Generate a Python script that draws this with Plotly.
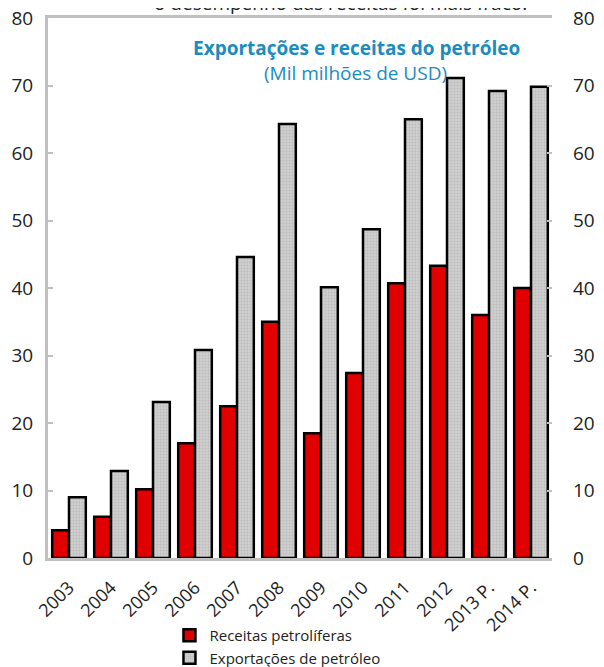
import plotly.graph_objects as go

years = ['2003', '2004', '2005', '2006', '2007', '2008', '2009', '2010',
         '2011', '2012', '2013 P.', '2014 P.']
receitas = [4.1, 6.1, 10.2, 17.0, 22.5, 35.0, 18.5, 27.4, 40.7, 43.3, 36.0, 40.0]
exportacoes = [9.0, 12.9, 23.1, 30.8, 44.6, 64.3, 40.1, 48.7, 65.0, 71.1, 69.2, 69.8]
yticks = [0, 10, 20, 30, 40, 50, 60, 70, 80]

fnt = 'Open Sans'
blue = '#1a8cc0'

fig = go.Figure()
fig.add_trace(go.Bar(
    x=years, y=receitas, name='Receitas petrolíferas',
    marker=dict(color='#e00000', line=dict(color='black', width=2.5)),
))
fig.add_trace(go.Bar(
    x=years, y=exportacoes, name='Exportações de petróleo',
    marker=dict(color='#c8c8c8', line=dict(color='black', width=2.5),
                pattern=dict(shape='.', fgcolor='#a8a8a8', bgcolor='#d0d0d0', size=3, solidity=0.4)),
))
# invisible trace so the right-hand axis is drawn
fig.add_trace(go.Scatter(x=years, y=exportacoes, yaxis='y2', mode='none',
                         showlegend=False, hoverinfo='skip'))

axis_common = dict(range=[0, 80], tickvals=yticks, showgrid=False, ticks='inside',
                   ticklen=5, tickcolor='#c0c0c0', tickwidth=2, automargin=False,
                   ticklabeloverflow='allow', zeroline=False,
                   tickfont=dict(family=fnt, size=19, color='#222'))

# page body adds an 8px margin, so the figure is a bit smaller than the window
fig.update_layout(
    width=596, height=659,
    margin=dict(l=40, r=52, t=10, b=109),
    paper_bgcolor='white', plot_bgcolor='white',
    barmode='group', bargap=0.2, bargroupgap=0.0,
    font=dict(family=fnt, color='#222'),
    xaxis=dict(tickangle=-45, tickfont=dict(family=fnt, size=18, color='#222'),
               showline=True, linecolor='#c0c0c0', linewidth=3, mirror=True,
               ticks='', showgrid=False, automargin=False, ticklabelstandoff=9),
    yaxis=dict(**axis_common, showline=True, linecolor='#c0c0c0', linewidth=3, ticklabelstandoff=8),
    yaxis2=dict(**axis_common, overlaying='y', side='right', showline=False, ticklabelstandoff=20),
    legend=dict(orientation='v', x=0.241, y=0.073, xref='paper', yref='container',
                xanchor='left', yanchor='top',
                font=dict(family=fnt, size=15, color='#222'), tracegroupgap=0,
                itemwidth=30, bgcolor='rgba(0,0,0,0)'),
    annotations=[
        dict(text='o desempenho das receitas foi mais fraco.', xref='paper', yref='paper',
             x=0.581, y=1.0, xanchor='center', yanchor='bottom', showarrow=False,
             font=dict(family=fnt, size=19, color='#222')),
        dict(text='<b>Exportações e receitas do petróleo</b>', xref='paper', yref='paper',
             x=0.613, y=0.944, xanchor='center', yanchor='middle', showarrow=False,
             font=dict(family=fnt, size=19, color=blue)),
        dict(text='(Mil milhões de USD)', xref='paper', yref='paper',
             x=0.611, y=0.898, xanchor='center', yanchor='middle', showarrow=False,
             font=dict(family=fnt, size=19, color=blue)),
    ],
)

fig.write_html("out.html")
